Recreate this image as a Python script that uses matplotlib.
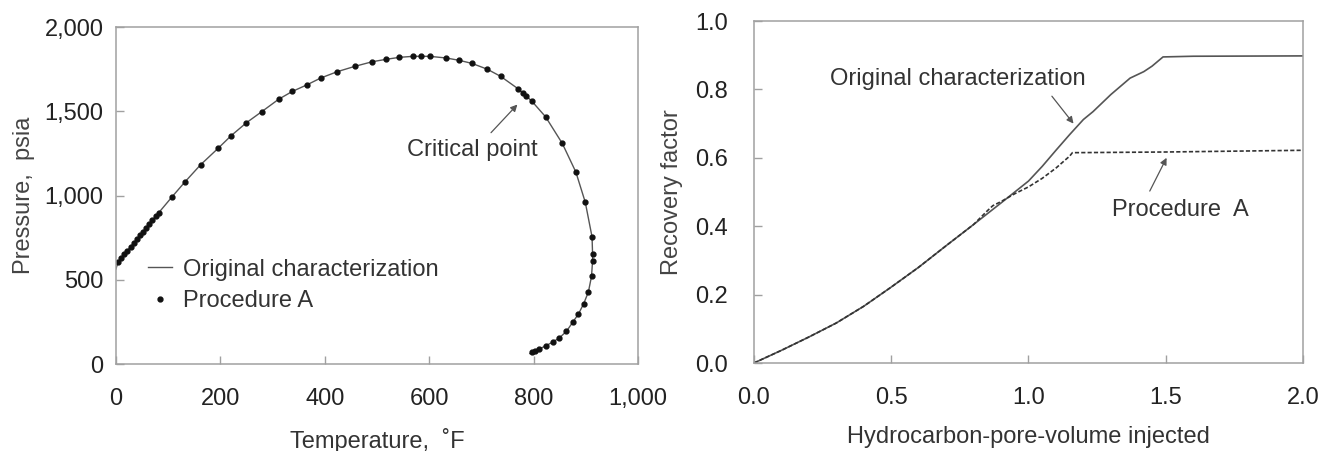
import matplotlib
matplotlib.use("Agg")
from matplotlib import pyplot as plt
from matplotlib.ticker import StrMethodFormatter

plt.rcParams["font.family"] = ["Liberation Sans", "DejaVu Sans"]

# Phase envelope, procedure A points (temperature F, pressure psia)
proc_temp = [4, 10, 16, 22, 28, 34, 40, 46, 52, 58, 64, 70, 76, 82,
             108, 132, 162, 196, 221, 250, 279, 312, 338, 366, 392, 424,
             457, 491, 517, 543, 569, 585, 601, 633, 658, 682, 711, 737,
             770, 780, 786, 796, 823, 855, 881, 899, 912, 913, 913, 911,
             905, 896, 886, 875, 863, 849, 837, 824, 811, 803, 796]
proc_pres = [605, 628, 650, 673, 695, 718, 740, 763, 786, 808, 831, 853, 876, 898,
             994, 1080, 1182, 1281, 1356, 1432, 1497, 1572, 1618, 1657, 1697, 1735,
             1766, 1794, 1808, 1820, 1826, 1826, 1826, 1816, 1802, 1784, 1750, 1707,
             1634, 1606, 1590, 1562, 1467, 1309, 1139, 960, 754, 650, 614, 521,
             428, 358, 297, 248, 194, 154, 131, 109, 89, 77, 69]

# original characterization envelope: same path plus its end points
orig_temp = [0] + proc_temp + [793]
orig_pres = [564] + proc_pres + [62]

# recovery factor vs HCPV injected
hcpv_orig = [0.0, 0.1, 0.2, 0.3, 0.4, 0.5, 0.6, 0.7, 0.8, 0.9, 1.0, 1.05, 1.1,
             1.15, 1.2, 1.235, 1.3, 1.37, 1.42, 1.45, 1.49, 1.6, 2.0]
rf_orig = [0.0, 0.037, 0.076, 0.117, 0.166, 0.222, 0.28, 0.343, 0.405, 0.468, 0.532,
           0.575, 0.622, 0.668, 0.712, 0.735, 0.785, 0.833, 0.852, 0.868, 0.895,
           0.897, 0.898]
hcpv_proc = [0.0, 0.1, 0.2, 0.3, 0.4, 0.5, 0.6, 0.7, 0.8, 0.85, 0.87, 0.9, 0.95,
             1.0, 1.05, 1.1, 1.15, 1.16, 1.5, 2.0]
rf_proc = [0.0, 0.037, 0.076, 0.117, 0.166, 0.222, 0.28, 0.343, 0.405, 0.445, 0.46,
           0.472, 0.495, 0.515, 0.54, 0.57, 0.605, 0.615, 0.617, 0.622]

spine_col = "#a0a0a0"
txt_col = "#222222"
fs = 17

fig = plt.figure(figsize=(13.19, 4.51), dpi=100)
ax1 = fig.add_axes([0.0879, 0.1929, 0.3958, 0.7472])
ax2 = fig.add_axes([0.5716, 0.1951, 0.4163, 0.7583])


def style_axes(ax, xpad, ypad):
    for s in ax.spines.values():
        s.set_color(spine_col)
        s.set_linewidth(1.1)
    ax.tick_params(direction="in", length=5.5, width=1.0, color=spine_col,
                   labelsize=fs, labelcolor=txt_col)
    ax.tick_params(axis="x", pad=xpad)
    ax.tick_params(axis="y", pad=ypad)


# left: phase envelope
ax1.plot(orig_temp, orig_pres, color="#555555", lw=1.0,
         label="Original characterization")
ax1.plot(proc_temp, proc_pres, ls="none", marker="o", ms=3.5, color="#111111",
         label="Procedure A")
ax1.set_xlim(0, 1000)
ax1.set_ylim(0, 2000)
ax1.set_xticks([0, 200, 400, 600, 800, 1000])
ax1.set_yticks([0, 500, 1000, 1500, 2000])
ax1.xaxis.set_major_formatter(StrMethodFormatter("{x:,.0f}"))
ax1.yaxis.set_major_formatter(StrMethodFormatter("{x:,.0f}"))
style_axes(ax1, 17, 9)
ax1.set_xlabel("Temperature,  \u02daF", fontsize=fs, color="#333333")
ax1.set_ylabel("Pressure,  psia", fontsize=fs, color="#444444")
ax1.xaxis.set_label_coords(0.5, -0.19)
ax1.yaxis.set_label_coords(-0.155, 0.5)
ax1.legend(loc="upper left", bbox_to_anchor=(0.062, 0.313), frameon=False,
           fontsize=fs, handlelength=1.0, handletextpad=0.45, labelspacing=0.4,
           borderpad=0, borderaxespad=0, labelcolor="#333333")
ax1.annotate("Critical point", xy=(769, 1540), xytext=(683, 1273),
             ha="center", va="center", fontsize=fs, color="#333333",
             arrowprops=dict(arrowstyle="-|>", color="#555555", lw=0.9,
                             mutation_scale=10, shrinkA=3, shrinkB=0,
                             relpos=(0.6, 1.0)))

# right: recovery factor
ax2.plot(hcpv_orig, rf_orig, color="#555555", lw=1.2)
ax2.plot(hcpv_proc, rf_proc, color="#333333", lw=1.2, ls=(0, (2.5, 1.3)))
ax2.set_xlim(0, 2.0)
ax2.set_ylim(0, 1.0)
ax2.set_xticks([0.0, 0.5, 1.0, 1.5, 2.0])
ax2.set_yticks([0.0, 0.2, 0.4, 0.6, 0.8, 1.0])
ax2.xaxis.set_major_formatter(StrMethodFormatter("{x:.1f}"))
ax2.yaxis.set_major_formatter(StrMethodFormatter("{x:.1f}"))
style_axes(ax2, 17, 19)
ax2.set_xlabel("Hydrocarbon-pore-volume injected", fontsize=fs, color="#333333")
ax2.set_ylabel("Recovery factor", fontsize=fs, color="#444444")
ax2.xaxis.set_label_coords(0.5, -0.185)
ax2.yaxis.set_label_coords(-0.13, 0.5)
ax2.annotate("Original characterization", xy=(1.164, 0.70), xytext=(0.742, 0.83),
             ha="center", va="center", fontsize=fs, color="#333333",
             arrowprops=dict(arrowstyle="-|>", color="#555555", lw=0.9,
                             mutation_scale=10, shrinkA=3, shrinkB=0,
                             relpos=(0.85, 0.0)))
ax2.annotate("Procedure  A", xy=(1.503, 0.60), xytext=(1.552, 0.448),
             ha="center", va="center", fontsize=fs, color="#333333",
             arrowprops=dict(arrowstyle="-|>", color="#555555", lw=0.9,
                             mutation_scale=10, shrinkA=4, shrinkB=0,
                             relpos=(0.25, 1.0)))

fig.savefig("out.png", dpi=100)
